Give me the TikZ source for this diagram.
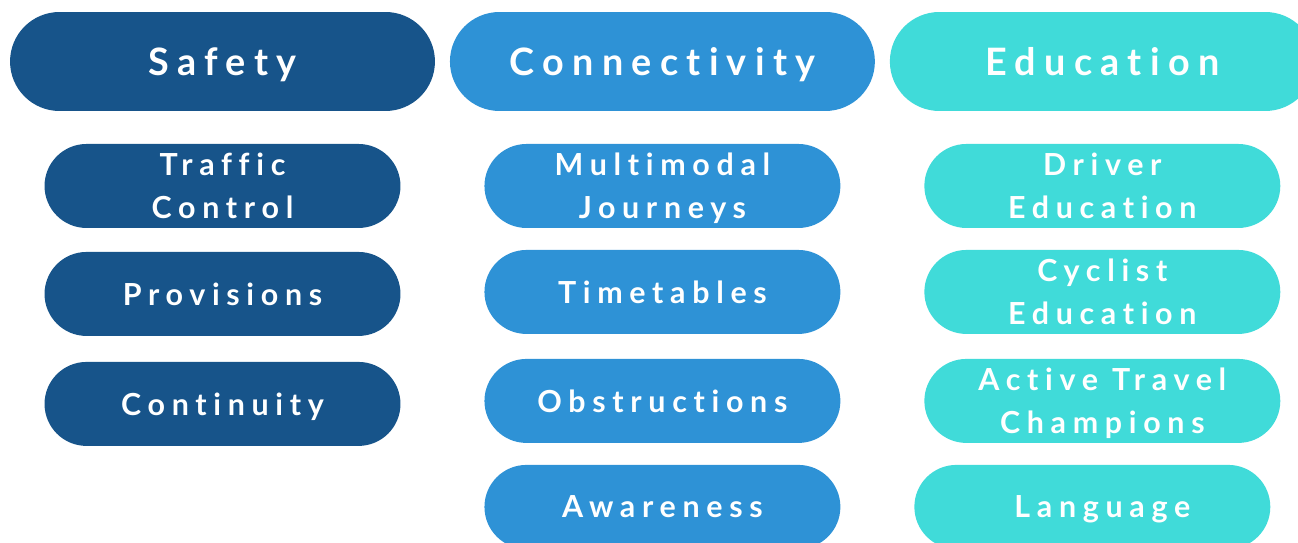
\documentclass[tikz,border=0pt]{standalone}
\usepackage{fontspec}
\newfontfamily\pillfont[LetterSpace=22,RawFeature={-liga;-dlig}]{Lato}
\usepackage{tikz}
\usetikzlibrary{positioning,shapes.misc}
\definecolor{safetyblue}{RGB}{23,84,138}
\definecolor{connblue}{RGB}{46,146,214}
\definecolor{educyan}{RGB}{64,219,217}
\tikzset{head/.style={rounded rectangle,minimum width=8.5cm,minimum height=1.98cm,outer sep=0pt,
           inner sep=0pt,text depth=0pt,text=white,font=\pillfont\bfseries\fontsize{21.5}{25}\selectfont},
         item/.style={rounded rectangle,minimum width=7.12cm,minimum height=1.68cm,outer sep=0pt,
           inner sep=0pt,text depth=0pt,text=white,align=center,font=\pillfont\bfseries\fontsize{17.3}{24.5}\selectfont}
}

\begin{document}
\begin{tikzpicture}[x=0.02cm,y=-0.02cm]
\useasboundingbox (0,0) rectangle (1298,543);

\node[head,fill=safetyblue] (safety) at (222.5,61.5) {Safety};
\node[head,fill=connblue,right=0.3cm of safety] (conn) {Connectivity};
\node[head,fill=educyan,right=0.3cm of conn] (edu) {Education};

\node[item,fill=safetyblue,below=0.66cm of safety] (traffic) {Traffic\\Control};
\node[item,fill=safetyblue,below=0.48cm of traffic] (prov) {Provisions};
\node[item,fill=safetyblue,below=0.52cm of prov] (cont) {Continuity};

\node[item,fill=connblue,below=0.66cm of conn] (multi) {Multimodal\\Journeys};
\node[item,fill=connblue,below=0.44cm of multi] (time) {Timetables};
\node[item,fill=connblue,below=0.5cm of time] (obst) {Obstructions};
\node[item,fill=connblue,below=0.44cm of obst] (aware) {Awareness};

\node[item,fill=educyan,below=0.66cm of edu] (driver) {Driver\\Education};
\node[item,fill=educyan,below=0.44cm of driver] (cyclist) {Cyclist\\Education};
\node[item,fill=educyan,below=0.5cm of cyclist] (active) {Active Travel\\Champions};
\node[item,fill=educyan,below=0.44cm of active,xshift=-0.2cm] (lang) {\hspace*{0.4cm}Language};

\end{tikzpicture}
\end{document}
